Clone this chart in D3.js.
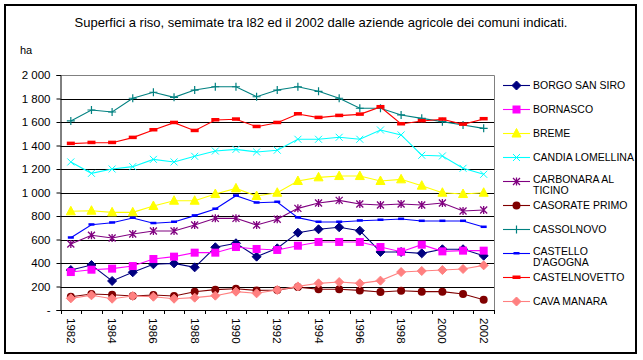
<!DOCTYPE html>
<html><head><meta charset="utf-8">
<script src="https://cdn.jsdelivr.net/npm/d3@7"></script>
<style>body{margin:0;background:#fff}svg{display:block;font-family:"Liberation Sans",Arial,sans-serif}</style>
</head><body><svg id="c" width="643" height="360"></svg>
<script>
const years = d3.range(1982, 2003);
const yTicks = [0,200,400,600,800,1000,1200,1400,1600,1800,2000];
const xTickLabels = [1982,1984,1986,1988,1990,1992,1994,1996,1998,2000,2002];
const seriesNames = ["BORGO SAN SIRO","BORNASCO","BREME","CANDIA LOMELLINA","CARBONARA AL TICINO","CASORATE PRIMO","CASSOLNOVO","CASTELLO D'AGOGNA","CASTELNOVETTO","CAVA MANARA"];
const borgoSanSiro = [340,383,247,321,389,397,363,534,568,454,525,658,687,704,675,494,494,482,517,517,462];
const bornasco = [323,343,352,374,434,454,488,488,536,519,511,547,579,579,579,536,496,556,499,505,505];
const breme = [840,845,831,831,885,930,930,987,1035,970,998,1098,1129,1140,1140,1098,1112,1058,998,987,998];
const candiaLomellina = [1260,1163,1200,1220,1282,1260,1308,1353,1367,1345,1360,1453,1453,1470,1453,1532,1490,1317,1311,1206,1155];
const carbonaraAlTicino = [562,636,613,647,672,672,723,780,780,723,772,865,911,933,902,894,902,894,911,843,851];
const casoratePrimo = [113,136,130,119,128,119,156,173,181,167,170,195,176,176,167,153,164,156,156,136,88];
const cassolnovo = [1609,1702,1685,1802,1853,1810,1872,1900,1900,1815,1872,1900,1861,1802,1717,1717,1660,1631,1603,1575,1546];
const castelloDAgogna = [615,726,743,783,738,749,803,860,973,913,919,786,749,749,760,766,774,757,757,757,706];
const castelnovetto = [1416,1424,1424,1467,1532,1594,1526,1617,1623,1560,1594,1668,1637,1654,1665,1728,1583,1609,1623,1580,1626];
const cavaManara = [99,125,96,119,113,96,105,122,156,142,170,201,227,238,227,250,323,332,340,349,380];
const seriesValues = [borgoSanSiro,bornasco,breme,candiaLomellina,carbonaraAlTicino,casoratePrimo,cassolnovo,castelloDAgogna,castelnovetto,cavaManara];
const colors = ["#000080","#FF00FF","#FFFF00","#00FFFF","#800080","#800000","#008080","#0000FF","#FF0000","#FF8080"];
const markers = ["diamond","square","triangle","x","star","circle","plus","dash","bar","diamond"];

const svg = d3.select("#c");
svg.append("rect").attr("x",5).attr("y",5).attr("width",631).attr("height",348).attr("fill","#fff").attr("stroke","#000").attr("stroke-width",2);
svg.append("text").attr("x",321).attr("y",27).attr("text-anchor","middle").attr("font-size",13).text("Superfici a riso, semimate tra l82 ed il 2002 dalle aziende agricole dei comuni indicati.");
svg.append("text").attr("x",20).attr("y",54).attr("font-size",11).text("ha");

const L=60.5, R=494, T=75, B=310;
const x = d3.scaleBand().domain(years).range([L,R]);
const y = d3.scaleLinear().domain([0,2000]).range([B,T]);

svg.append("g").selectAll("line").data(yTicks.filter(d=>d>0&&d<2000)).join("line")
  .attr("x1",L).attr("x2",R).attr("y1",d=>Math.round(y(d))+0.5).attr("y2",d=>Math.round(y(d))+0.5).attr("stroke","#000");
svg.append("path").attr("d",`M${L},${T+0.5}H${R+0.5}V${B}`).attr("fill","none").attr("stroke","#808080");

const yAxis = d3.axisLeft(y).tickValues(yTicks).tickSize(4).tickPadding(6)
  .tickFormat(d=> d===0 ? "-" : d3.format(",")(d).replace(","," "));
const gy = svg.append("g").attr("transform",`translate(${L},0)`).call(yAxis);
gy.select(".domain").attr("stroke","#000");
gy.selectAll("text").attr("font-size",11.5).attr("font-family","Liberation Sans, Arial").attr("fill","#000");
gy.selectAll("line").attr("stroke","#000");

const gx = svg.append("g").attr("transform",`translate(0,${B})`);
gx.append("line").attr("x1",L).attr("x2",R).attr("y1",0.5).attr("y2",0.5).attr("stroke","#000");
const bounds = years.map(d=>x(d)).concat([R]);
gx.selectAll("line.t").data(bounds).join("line").attr("class","t")
  .attr("x1",d=>Math.round(d)+0.5).attr("x2",d=>Math.round(d)+0.5).attr("y1",0).attr("y2",4).attr("stroke","#000");
gx.selectAll("text").data(xTickLabels).join("text")
  .attr("transform",d=>`translate(${x(d)+x.bandwidth()/2-4},8) rotate(90)`)
  .attr("font-size",11.5).text(d=>d);

function drawMarker(g, type, color, cx, cy){
  switch(type){
    case "diamond": g.append("path").attr("d",`M${cx},${cy-4.5}L${cx+4.5},${cy}L${cx},${cy+4.5}L${cx-4.5},${cy}Z`).attr("fill",color).attr("stroke",color); break;
    case "square": g.append("rect").attr("x",cx-4).attr("y",cy-4).attr("width",8).attr("height",8).attr("fill",color); break;
    case "triangle": g.append("path").attr("d",`M${cx},${cy-5}L${cx+4.5},${cy+3.5}L${cx-4.5},${cy+3.5}Z`).attr("fill",color).attr("stroke",color); break;
    case "x": g.append("path").attr("d",`M${cx-3.5},${cy-3.5}L${cx+3.5},${cy+3.5}M${cx+3.5},${cy-3.5}L${cx-3.5},${cy+3.5}`).attr("stroke",color).attr("stroke-width",1); break;
    case "star": g.append("path").attr("d",`M${cx-3.5},${cy-3.5}L${cx+3.5},${cy+3.5}M${cx+3.5},${cy-3.5}L${cx-3.5},${cy+3.5}M${cx},${cy-4}V${cy+4}`).attr("stroke",color).attr("stroke-width",1.3); break;
    case "circle": g.append("circle").attr("cx",cx).attr("cy",cy).attr("r",4).attr("fill",color); break;
    case "plus": g.append("path").attr("d",`M${cx-4},${cy}H${cx+4}M${cx},${cy-4}V${cy+4}`).attr("stroke",color).attr("stroke-width",1.2); break;
    case "dash": g.append("rect").attr("x",cx-3).attr("y",cy-1.5).attr("width",6).attr("height",2.5).attr("fill",color); break;
    case "bar": g.append("rect").attr("x",cx-4).attr("y",cy-2).attr("width",8).attr("height",3.5).attr("fill",color); break;
  }
}

const line = d3.line().x((d,i)=>x(years[i])+x.bandwidth()/2).y(d=>y(d));
seriesValues.forEach((vals,si)=>{
  const g = svg.append("g");
  g.append("path").attr("d",line(vals)).attr("fill","none").attr("stroke",colors[si]).attr("stroke-width",1.1);
  vals.forEach((v,i)=>drawMarker(g,markers[si],colors[si],x(years[i])+x.bandwidth()/2,y(v)));
});

const lg = svg.append("g");
seriesNames.forEach((name,i)=>{
  const ly = 85 + i*24;
  const g = lg.append("g");
  g.append("line").attr("x1",503).attr("x2",530).attr("y1",ly+0.5).attr("y2",ly+0.5).attr("stroke",colors[i]).attr("stroke-width",1.1);
  drawMarker(g,markers[i],colors[i],516.5,ly+0.5);
  let lines;
  if (name==="CARBONARA AL TICINO") lines=["CARBONARA AL","TICINO"];
  else if (name==="CASTELLO D'AGOGNA") lines=["CASTELLO","D'AGOGNA"];
  else lines=[name];
  const t = g.append("text").attr("x",533).attr("y",lines.length>1 ? ly+2 : ly+4).attr("font-size",10.5);
  lines.forEach((s,k)=>t.append("tspan").attr("x",533).attr("dy",k===0?0:11).text(s));
});
</script></body></html>
